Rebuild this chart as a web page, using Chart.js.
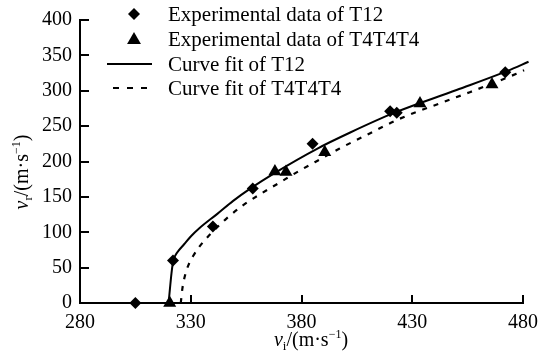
<!DOCTYPE html>
<html>
<head>
<meta charset="utf-8">
<script src="https://cdn.jsdelivr.net/npm/chart.js@4/dist/chart.umd.min.js"></script>
<style>
  html, body { margin: 0; padding: 0; background: #fff; }
  canvas { display: block; }
</style>
</head>
<body>
<canvas id="chart" width="553" height="354"></canvas>
<script>
// tick labels
const xTicks = [280, 330, 380, 430, 480];
const yTicks = [0, 50, 100, 150, 200, 250, 300, 350, 400];

// experimental points
const t12X = [305, 322, 340, 358, 385, 420, 423, 472];
const t12Y = [0, 60, 108, 162, 225, 271, 269, 326];
const t4X = [320.5, 368, 373, 390.5, 433.5, 466];
const t4Y = [0, 186, 185, 213, 282, 309];

// fitted curves
const fitT12X = [320, 320.6, 321.3, 322, 323, 324.5, 327, 330, 334, 342, 349, 357, 368, 387, 402, 422, 450, 473, 482.5];
const fitT12Y = [0, 20, 42, 58, 67, 74, 83, 94, 106, 126, 144, 162, 184, 218, 241, 269, 301, 328, 341];
const fitT4X = [325.5, 326.2, 327.5, 329, 331, 334, 340, 346, 354, 362, 370, 378, 386, 397, 411, 424, 444, 456, 477, 480.5];
const fitT4Y = [0, 20, 40, 54, 66, 80, 101, 119, 139, 155, 170, 185, 199, 218, 240, 260, 284, 298, 324, 329];

const legendLabels = ['Experimental data of T12', 'Experimental data of T4T4T4', 'Curve fit of T12', 'Curve fit of T4T4T4'];

const FONT = '"Liberation Serif", "DejaVu Serif", serif';

function pts(xs, ys) {
    return xs.map((x, i) => ({ x: x, y: ys[i] }));
}

function diamond(ctx, x, y, r) {
    ctx.beginPath();
    ctx.moveTo(x, y - r);
    ctx.lineTo(x + r, y);
    ctx.lineTo(x, y + r);
    ctx.lineTo(x - r, y);
    ctx.closePath();
    ctx.fill();
}

function triangle(ctx, x, y, r) {
    ctx.beginPath();
    ctx.moveTo(x, y - r);
    ctx.lineTo(x + r * 0.866, y + r * 0.5);
    ctx.lineTo(x - r * 0.866, y + r * 0.5);
    ctx.closePath();
    ctx.fill();
}

// inward tick marks
const innerTicks = {
    id: 'innerTicks',
    afterDraw(chart) {
        const ctx = chart.ctx;
        const xs = chart.scales.x, ys = chart.scales.y;
        const area = chart.chartArea;
        ctx.save();
        ctx.strokeStyle = '#000';
        ctx.lineWidth = 2;
        xTicks.forEach(v => {
            if (v === xs.min) return;
            const px = Math.round(xs.getPixelForValue(v));
            ctx.beginPath();
            ctx.moveTo(px, area.bottom);
            ctx.lineTo(px, area.bottom - 8);
            ctx.stroke();
        });
        yTicks.forEach(v => {
            if (v === ys.min) return;
            const py = Math.round(ys.getPixelForValue(v));
            ctx.beginPath();
            ctx.moveTo(area.left, py);
            ctx.lineTo(area.left + 9, py);
            ctx.stroke();
        });
        ctx.restore();
    }
};

// draws "v_sub/(m·s^-1)" with italic v, subscript and superscript
function unitLabel(ctx, sub, x, y) {
    const parts = [
        { t: 'v', f: 'italic 20px ' + FONT, dy: 0 },
        { t: sub, f: '13px ' + FONT, dy: 4 },
        { t: '/(m·s', f: '20px ' + FONT, dy: 0 },
        { t: '\u22121', f: '12px ' + FONT, dy: -8 },
        { t: ')', f: '20px ' + FONT, dy: 0 }
    ];
    let w = 0;
    parts.forEach(p => { ctx.font = p.f; p.w = ctx.measureText(p.t).width; w += p.w; });
    let cx = x - w / 2;
    ctx.textBaseline = 'alphabetic';
    ctx.textAlign = 'left';
    parts.forEach(p => {
        ctx.font = p.f;
        ctx.fillText(p.t, cx, y + p.dy);
        cx += p.w;
    });
}

const axisTitles = {
    id: 'axisTitles',
    afterDraw(chart) {
        const ctx = chart.ctx;
        ctx.save();
        ctx.fillStyle = '#000';
        unitLabel(ctx, 'i', 311, 346);
        ctx.translate(28, 172);
        ctx.rotate(-Math.PI / 2);
        unitLabel(ctx, 'r', 0, 0);
        ctx.restore();
    }
};

const customLegend = {
    id: 'customLegend',
    afterDraw(chart) {
        const ctx = chart.ctx;
        const rows = [14, 39, 64, 88];
        ctx.save();
        ctx.fillStyle = '#000';
        ctx.strokeStyle = '#000';
        diamond(ctx, 134, rows[0], 6);
        triangle(ctx, 134, rows[1] + 1, 8);
        ctx.lineWidth = 2;
        ctx.beginPath();
        ctx.moveTo(107, rows[2]);
        ctx.lineTo(152, rows[2]);
        ctx.stroke();
        ctx.setLineDash([6, 8]);
        ctx.lineWidth = 2.2;
        ctx.beginPath();
        ctx.moveTo(113, rows[3]);
        ctx.lineTo(148, rows[3]);
        ctx.stroke();
        ctx.setLineDash([]);
        ctx.font = '21px ' + FONT;
        ctx.textBaseline = 'middle';
        ctx.textAlign = 'left';
        legendLabels.forEach((t, i) => ctx.fillText(t, 168, rows[i] + 1));
        ctx.restore();
    }
};

const ctx = document.getElementById('chart').getContext('2d');
const chart = new Chart(ctx, {
    type: 'scatter',
    data: {
        datasets: [
            {
                label: legendLabels[2],
                data: pts(fitT12X, fitT12Y),
                showLine: true,
                borderColor: '#000',
                borderWidth: 2,
                pointRadius: 0,
                cubicInterpolationMode: 'monotone',
                clip: false
            },
            {
                label: legendLabels[3],
                data: pts(fitT4X, fitT4Y),
                showLine: true,
                borderColor: '#000',
                borderWidth: 2.2,
                borderDash: [5, 7],
                pointRadius: 0,
                cubicInterpolationMode: 'monotone',
                clip: false
            },
            {
                label: legendLabels[0],
                data: pts(t12X, t12Y),
                pointStyle: 'rectRot',
                pointRadius: 6,
                backgroundColor: '#000',
                borderColor: '#000',
                borderWidth: 0,
                clip: false
            },
            {
                label: legendLabels[1],
                data: pts(t4X, t4Y),
                pointStyle: 'triangle',
                pointRadius: 7.5,
                backgroundColor: '#000',
                borderColor: '#000',
                borderWidth: 0,
                clip: false
            }
        ]
    },
    options: {
        responsive: false,
        animation: false,
        devicePixelRatio: 1,
        layout: { padding: { top: 18, right: 30, left: 0, bottom: 0 } },
        plugins: {
            legend: { display: false },
            tooltip: { enabled: false }
        },
        scales: {
            x: {
                type: 'linear',
                min: 280,
                max: 480,
                afterBuildTicks: s => { s.ticks = xTicks.map(v => ({ value: v })); },
                afterFit: s => { s.height = 51; },
                grid: { display: false, drawTicks: false },
                border: { display: true, color: '#000', width: 2 },
                ticks: { color: '#000', padding: 8, font: { family: FONT, size: 20 } }
            },
            y: {
                type: 'linear',
                min: 0,
                max: 400,
                afterBuildTicks: s => { s.ticks = yTicks.map(v => ({ value: v })); },
                afterFit: s => { s.width = 80; },
                grid: { display: false, drawTicks: false },
                border: { display: true, color: '#000', width: 2 },
                ticks: { color: '#000', padding: 8, font: { family: FONT, size: 20 } }
            }
        }
    },
    plugins: [innerTicks, axisTitles, customLegend]
});
</script>
</body>
</html>
